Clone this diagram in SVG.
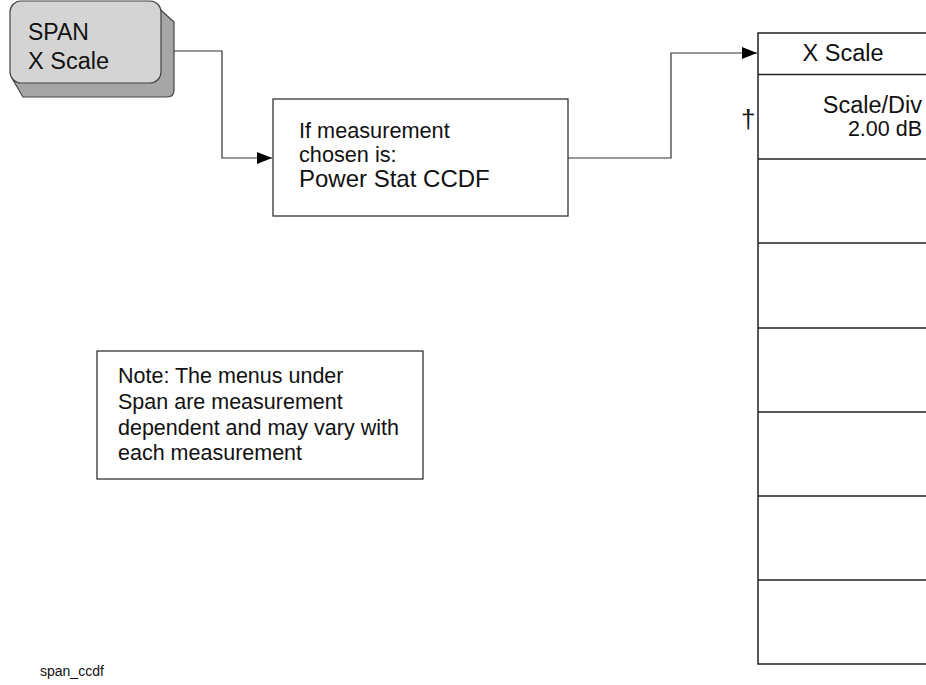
<svg xmlns="http://www.w3.org/2000/svg" width="926" height="685" viewBox="0 0 926 685">
<style>
text{font-family:"Liberation Sans",Arial,sans-serif;fill:#111}
.conn{fill:none;stroke:#333;stroke-width:1.2}
.box{fill:#fff;stroke:#333;stroke-width:1.3}
.div{stroke:#222;stroke-width:1.5}
</style>
<defs>
<marker id="arr" markerWidth="16" markerHeight="12" refX="15" refY="6" orient="auto" markerUnits="userSpaceOnUse">
<path d="M0,0 L15,6 L0,12 Z" fill="#000"/>
</marker>
</defs>
<rect width="926" height="685" fill="#fff"/>
<g id="span-key">
<path d="M152,2 L174,22 L174,90 Q174,97 167,97 L23,97 L13,80 Z" fill="#a6a6a6" stroke="#444" stroke-width="1.2"/>
<rect x="10" y="1" width="151" height="82" rx="11" fill="#d4d4d4" stroke="#444" stroke-width="1.2"/>
<text x="28" y="40" font-size="23">SPAN</text>
<text x="28" y="69" font-size="23.5">X Scale</text>
</g>
<g id="condition">
<rect class="box" x="273" y="99" width="295" height="117"/>
<text x="299" y="138" font-size="21.7">If measurement</text>
<text x="299" y="162" font-size="21.7">chosen is:</text>
<text x="299" y="187" font-size="24">Power Stat CCDF</text>
</g>
<g id="menu">
<rect x="758" y="33" width="172" height="631" fill="#fff" stroke="#222" stroke-width="1.5"/>
<line class="div" x1="758" y1="74.5" x2="930" y2="74.5"/>
<line class="div" x1="758" y1="159" x2="930" y2="159"/>
<line class="div" x1="758" y1="243" x2="930" y2="243"/>
<line class="div" x1="758" y1="328" x2="930" y2="328"/>
<line class="div" x1="758" y1="412" x2="930" y2="412"/>
<line class="div" x1="758" y1="496" x2="930" y2="496"/>
<line class="div" x1="758" y1="580" x2="930" y2="580"/>
<text x="843" y="61" font-size="23.5" text-anchor="middle">X Scale</text>
<text x="922" y="113" font-size="23.5" text-anchor="end">Scale/Div</text>
<text x="922" y="136" font-size="21.5" text-anchor="end">2.00 dB</text>
<text x="741" y="128" font-size="26">†</text>
</g>
<g id="note">
<rect class="box" x="97" y="351" width="326" height="128"/>
<text x="118" y="383" font-size="21.5">Note: The menus under</text>
<text x="118" y="409" font-size="21.5">Span are measurement</text>
<text x="118" y="435" font-size="21.5">dependent and may vary with</text>
<text x="118" y="460" font-size="21.5">each measurement</text>
</g>
<g id="caption">
<text x="40" y="676" font-size="14">span_ccdf</text>
</g>
<g id="connectors">
<path class="conn" d="M174,51 H222 V158 H272" marker-end="url(#arr)"/>
<path class="conn" d="M568,158 H671 V53 H757" marker-end="url(#arr)"/>
</g>
</svg>
